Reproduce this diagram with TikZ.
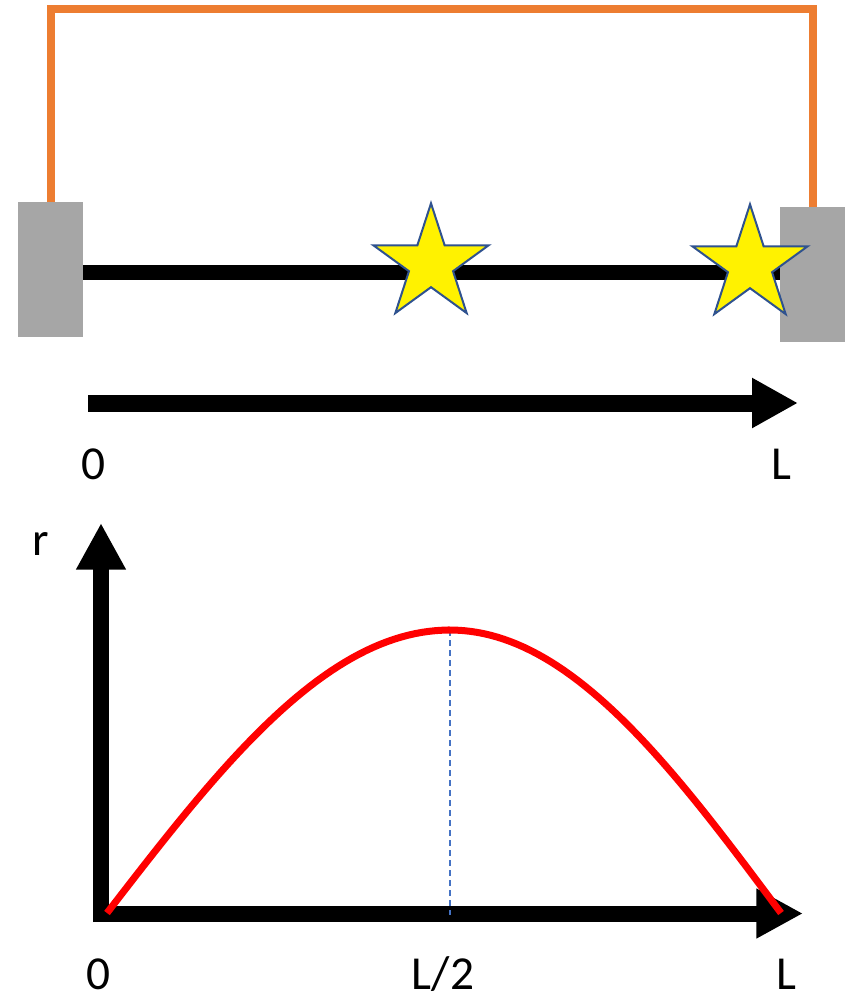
\documentclass[tikz,border=0pt]{standalone}
\usepackage{fontspec}
\setmainfont{Carlito}
\usetikzlibrary{arrows.meta,shapes.geometric}
\definecolor{wireorange}{HTML}{ED7D31}
\definecolor{blockgray}{HTML}{A6A6A6}
\definecolor{starblue}{HTML}{2F528F}
\definecolor{dashblue}{HTML}{4472C4}
\definecolor{curvered}{HTML}{FF0000}
\tikzset{
  block/.style={fill=blockgray, draw=none, rectangle, inner sep=0pt, minimum width=48.75pt, minimum height=101.25pt},
  wire/.style={draw=wireorange, line width=6pt, line join=miter},
  rod/.style={draw=black, line width=11.25pt},
  starmark/.style={shape=star, star points=5, star point ratio=2.618, minimum size=91pt, inner sep=0pt, fill=yellow, draw=starblue, line width=1.5pt},
  bigarrow/.style={draw=black, line width=12.75pt, -{Triangle[length=34.5pt, width=35.25pt]}},
  axisarrow/.style={draw=black, line width=12pt, -{Triangle[length=35pt, width=35pt]}},
  lbl/.style={inner sep=0pt, anchor=base, font=\fontsize{35.5}{40}\selectfont},
  curve/.style={draw=curvered, line width=5.25pt},
  guide/.style={draw=dashblue, line width=1.5pt, dash pattern=on 4.5pt off 3pt}
}
\begin{document}
\begin{tikzpicture}[x=0.75pt, y=-0.75pt]
\useasboundingbox (0,0) rectangle (848,997);
% blocks
\node[block] (lb) at (50.5,269.5) {};
\node[block] (rb) at (812.5,274.5) {};
% wire
\coordinate (wl) at (51,202);
\coordinate (wr) at (813,207);
\draw[wire] (wl) -- (51,9) -- (813,9) -- (wr);
% rod
\draw[rod] (lb.east |- 0,272) -- (rb.west |- 0,272);
% stars
\node[starmark] (s1) at (431,264) {};
\node[starmark] (s2) at (750,265) {};
% top axis
\coordinate (ta0) at (88,403);
\coordinate (ta1) at (798,403);
\draw[bigarrow] (ta0) -- (ta1);
\node[lbl] (t0) at (93,479) {0};
\node[lbl] (tL) at (781,479) {L};
% graph axes
\coordinate (o) at (101,913.5);
\coordinate (ytip) at (101,523);
\coordinate (xtip) at (803,913.5);
\draw[axisarrow] (101,922) -- (ytip);
\draw[axisarrow] (93,913.5) -- (xtip);
\node[lbl] (r) at (41,555) {r};
% curve
\coordinate (peak) at (450,630);
\coordinate (mid) at (450,915);
\draw[guide] (peak) -- (mid);
\draw[curve] plot[domain=0:90, samples=50] ({107+3.8111*\x},{913-283*sin(\x)})
  -- plot[domain=90:180, samples=50] ({450+3.6778*(\x-90)},{913-283*sin(\x)});
% labels
\node[lbl] (b0) at (98,989) {0};
\node[lbl] (bh) at (443,989) {L/2};
\node[lbl] (bL) at (786,989) {L};
\end{tikzpicture}
\end{document}
